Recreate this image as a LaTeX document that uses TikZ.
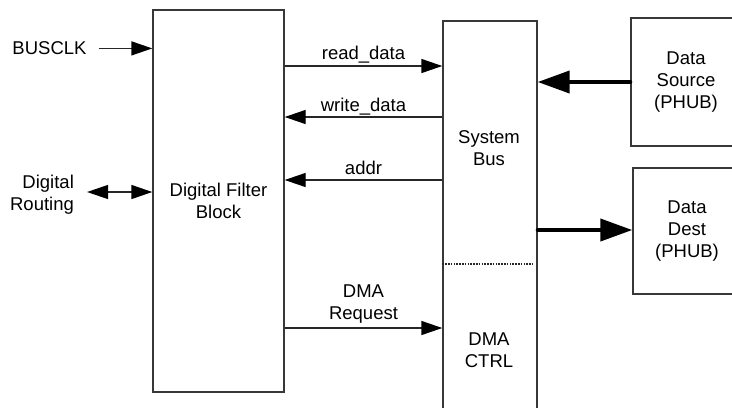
\documentclass[tikz,border=0pt]{standalone}
\usepackage{fontspec}
\setmainfont{Liberation Sans}
\usetikzlibrary{arrows.meta}
\begin{document}
\begin{tikzpicture}[x=1bp,y=-1bp,
  every node/.style={font=\fontsize{18.5bp}{22bp}\selectfont, text=black},
  box/.style={draw=black!78, line width=1.4bp, inner sep=0, align=center},
  lbl/.style={inner sep=0, align=center},
  sarr/.style={draw=black!85, line width=1.4bp, -{Triangle[length=21bp,width=14bp,color=black]}},
  bigarr/.style={draw=black, line width=4bp, line cap=round, -{Triangle[length=32bp,width=22bp]}}]
\useasboundingbox (0,0) rectangle (732,407);
\clip (0,0) rectangle (732,407);
% blocks
\node[box, minimum width=131bp, minimum height=382bp] (dfb) at (218.5,201) {Digital Filter\\Block};
\node[box, minimum width=94bp, minimum height=400bp] (bus) at (490,221) {};
\node[lbl] (sysbus) at (489,148) {System\\Bus};
\node[lbl] (dmactrl) at (489,350) {DMA\\CTRL};
\node[box, minimum width=110bp, minimum height=128bp] (src) at (686,82) {Data\\Source\\(PHUB)};
\node[box, minimum width=108bp, minimum height=126bp] (dst) at (687,231) {Data\\Dest\\(PHUB)};
% left side labels
\node[lbl] (busclk) at (49.5,48.4) {BUSCLK};
\node[lbl, align=right] (routing) at (42,194.5) {Digital\\Routing};
% connectors
\draw[sarr] ([xshift=12bp]busclk.east) -- (busclk.east -| dfb.west);
\draw[sarr, {Triangle[length=21bp,width=14bp,color=black]}-{Triangle[length=21bp,width=14bp,color=black]}]
  ([xshift=13bp,yshift=2.5bp]routing.east) -- ([yshift=2.5bp]routing.east -| dfb.west);
\draw[sarr] (dfb.east |- 0,66) -- node[lbl, anchor=base, yshift=6.5bp]{read\_data} (bus.west |- 0,66);
\draw[sarr] (bus.west |- 0,117) -- node[lbl, anchor=base, yshift=6bp]{write\_data} (dfb.east |- 0,117);
\draw[sarr] (bus.west |- 0,180) -- node[lbl, anchor=base, yshift=5.5bp]{addr} (dfb.east |- 0,180);
\draw[sarr] (dfb.east |- 0,328) -- node[lbl, anchor=south, yshift=4bp]{DMA\\Request} (bus.west |- 0,328);
\draw[bigarr] (src.west) -- (bus.east |- src.west);
\draw[bigarr] (bus.east |- 0,230) -- (dst.west |- 0,230);
% divider
\coordinate (dotend) at (532,264);
\draw[black!85, line width=2bp, dash pattern=on 1.6bp off 1.2bp] (bus.west |- dotend) -- (dotend);
\end{tikzpicture}
\end{document}
